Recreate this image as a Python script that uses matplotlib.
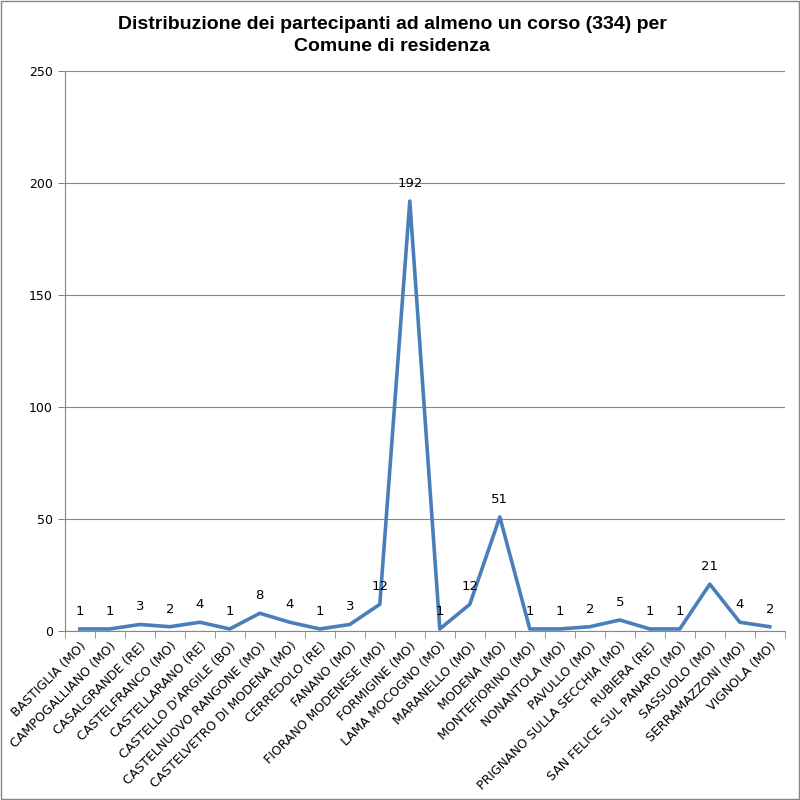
import matplotlib.pyplot as plt
from matplotlib.font_manager import FontProperties
import numpy as np

plt.rcParams['font.family'] = ['DejaVu Sans']

# comuni di residenza e numero di partecipanti
comuni = ['BASTIGLIA (MO)', 'CAMPOGALLIANO (MO)', 'CASALGRANDE (RE)', 'CASTELFRANCO (MO)',
          'CASTELLARANO (RE)', "CASTELLO D'ARGILE (BO)", 'CASTELNUOVO RANGONE (MO)',
          'CASTELVETRO DI MODENA (MO)', 'CERREDOLO (RE)', 'FANANO (MO)', 'FIORANO MODENESE (MO)',
          'FORMIGINE (MO)', 'LAMA MOCOGNO (MO)', 'MARANELLO (MO)', 'MODENA (MO)',
          'MONTEFIORINO (MO)', 'NONANTOLA (MO)', 'PAVULLO (MO)', 'PRIGNANO SULLA SECCHIA (MO)',
          'RUBIERA (RE)', 'SAN FELICE SUL PANARO (MO)', 'SASSUOLO (MO)', 'SERRAMAZZONI (MO)',
          'VIGNOLA (MO)']
partecipanti = [1, 1, 3, 2, 4, 1, 8, 4, 1, 3, 12, 192, 1, 12, 51, 1, 1, 2, 5, 1, 1, 21, 4, 2]
y_ticks = [0, 50, 100, 150, 200, 250]

fig = plt.figure(figsize=(8, 8), dpi=100)
ax = fig.add_axes([0.081, 0.211, 0.9, 0.7])

x = np.arange(len(comuni))
ax.plot(x, partecipanti, color='#4A7EBB', linewidth=2.6)

# etichette dei valori sopra i punti
for xi, v in zip(x, partecipanti):
    ax.annotate(str(v), (xi, v), xytext=(0, 8), textcoords='offset points',
                ha='center', va='bottom', fontsize=9.5)

ax.set_xlim(-0.5, len(comuni) - 0.5)
ax.set_ylim(0, 250)
ax.set_yticks(y_ticks)
ax.yaxis.grid(True, color='#868686', linewidth=0.8)
ax.set_axisbelow(True)

ax.set_xticks(x)
ax.set_xticklabels(comuni, rotation=45, ha='right', rotation_mode='anchor', fontsize=9)
ax.set_xticks(np.arange(-0.5, len(comuni)), minor=True)
ax.tick_params(axis='x', which='major', length=0, pad=6)
ax.tick_params(axis='x', which='minor', length=5, color='#868686')
ax.tick_params(axis='y', length=5, color='#868686', labelsize=9)

for side in ['top', 'right']:
    ax.spines[side].set_visible(False)
ax.spines['left'].set_color('#868686')
ax.spines['bottom'].set_color('#868686')

title_font = FontProperties(family='Liberation Sans', weight='bold', size=14)
fig.suptitle('Distribuzione dei partecipanti ad almeno un corso (334) per\nComune di residenza',
             fontproperties=title_font, x=0.49, y=0.98, linespacing=1.4)

# bordo grigio attorno alla figura
fig.patches.append(plt.Rectangle((0.001, 0.001), 0.998, 0.998, transform=fig.transFigure,
                                 fill=False, edgecolor='#868686', linewidth=1))

fig.savefig('out.png', dpi=100)
